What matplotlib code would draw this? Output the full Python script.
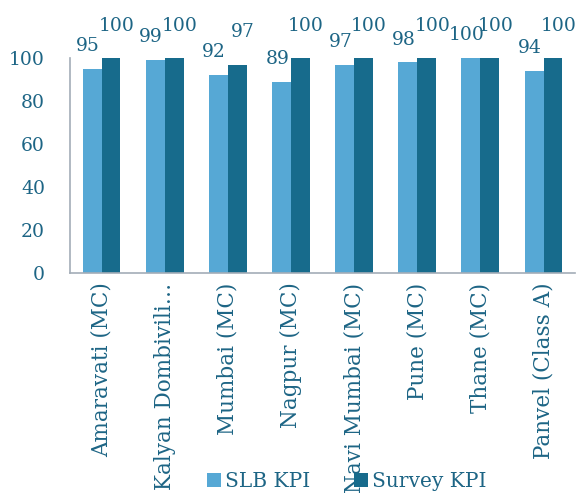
import numpy as np
import matplotlib
matplotlib.use("Agg")
import matplotlib.pyplot as plt

cities = ["Amaravati (MC)", "Kalyan Dombivili\u2026", "Mumbai (MC)", "Nagpur (MC)",
          "Navi Mumbai (MC)", "Pune (MC)", "Thane (MC)", "Panvel (Class A)"]
slb_kpi = [95, 99, 92, 89, 97, 98, 100, 94]
survey_kpi = [100, 100, 97, 100, 100, 100, 100, 100]

light = "#56a8d5"
dark = "#176b8c"
text_col = "#1d6585"
spine_col = "#a3adb7"

plt.rcParams['font.family'] = ['DejaVu Serif']

fig = plt.figure(figsize=(5.78, 4.97), dpi=100)
ax = fig.add_axes([0.121, 0.451, 0.874, 0.432])

x = np.arange(len(cities))
w = 0.3
b1 = ax.bar(x - w / 2, slb_kpi, w, color=light, label="SLB KPI")
b2 = ax.bar(x + w / 2, survey_kpi, w, color=dark, label="Survey KPI")

# value labels above bars, survey labels raised a bit so pairs don't collide
for bars, dx, dy in ((b1, -3, 10), (b2, 4, 17)):
    for rect in bars:
        ax.annotate(str(int(rect.get_height())),
                    (rect.get_x() + rect.get_width() / 2, rect.get_height()),
                    xytext=(dx, dy), textcoords="offset points",
                    ha="center", va="bottom", fontsize=13.5, color=text_col,
                    annotation_clip=False)

ax.set_xlim(-0.5, len(cities) - 0.5)
ax.set_ylim(0, 100)
ax.set_yticks(range(0, 101, 20))
ax.set_xticks(x)
ax.set_xticklabels(cities, rotation=90, fontsize=15.5, color=text_col)
ax.tick_params(axis='y', labelsize=13.5, labelcolor=text_col, length=0, pad=18)
ax.tick_params(axis='x', length=0, pad=7)

for s in ("top", "right"):
    ax.spines[s].set_visible(False)
for s in ("left", "bottom"):
    ax.spines[s].set_color(spine_col)
    ax.spines[s].set_linewidth(1.2)

leg = fig.legend(loc="lower center", bbox_to_anchor=(0.6, -0.025), ncol=2,
                 frameon=False, fontsize=14.5, handlelength=0.7, handleheight=0.7,
                 handletextpad=0.2, columnspacing=2.2)
for t in leg.get_texts():
    t.set_color(text_col)

fig.savefig("out.png", dpi=100)
